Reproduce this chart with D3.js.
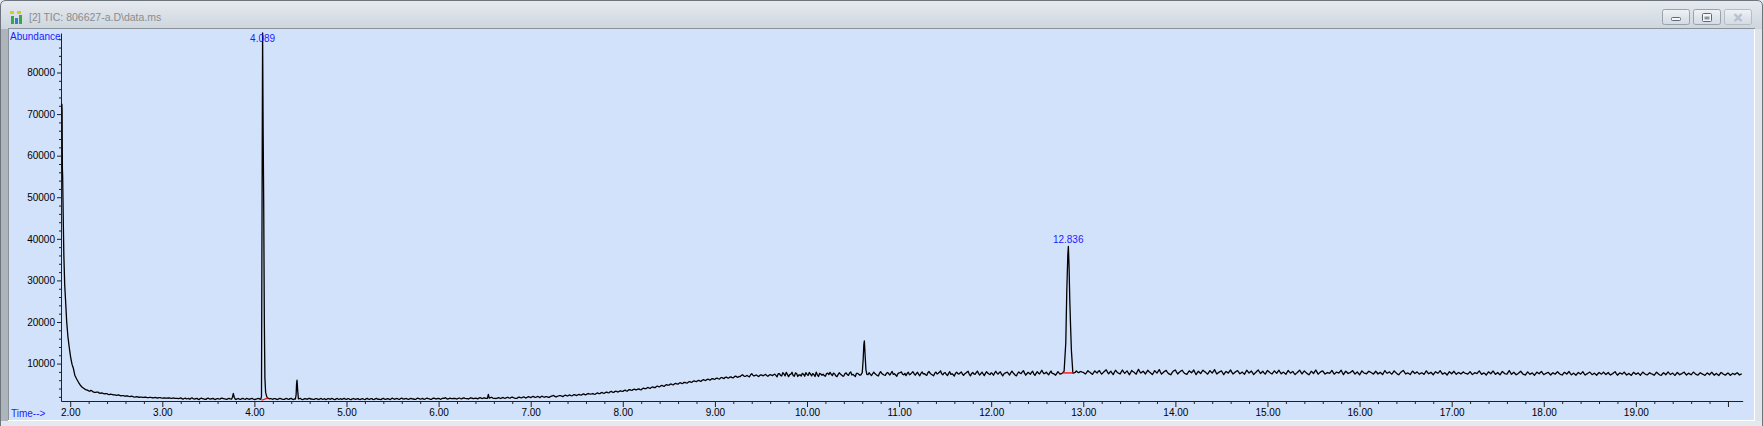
<!DOCTYPE html>
<html>
<head>
<meta charset="utf-8">
<script src="https://cdn.jsdelivr.net/npm/d3@7"></script>
<style>
  body { margin: 0; overflow: hidden; background: #dde3ea; }
  text { font-family: "Liberation Sans", Arial, sans-serif; }
</style>
</head>
<body>
<svg id="chart"></svg>
<script>
// --- data ---
const windowTitle = "[2] TIC: 806627-a.D\\data.ms";
const xMin = 1.90, xMax = 20.16;
const yMin = 1000, yMax = 89500;
const xMajor = [2, 3, 4, 5, 6, 7, 8, 9, 10, 11, 12, 13, 14, 15, 16, 17, 18, 19, 20];
const yMajor = [10000, 20000, 30000, 40000, 50000, 60000, 70000, 80000];

// solvent front at the start of the run
const frontTimes = [1.909, 1.912, 1.915, 1.918, 1.921, 1.925, 1.931, 1.940, 1.950, 1.962, 1.975,
  1.990, 2.005, 2.020, 2.035, 2.050, 2.070, 2.090, 2.110, 2.130, 2.150, 2.163];
const frontAbund = [72500, 71000, 57000, 55000, 50000, 44000, 36000, 29000, 25000, 20000, 16500,
  13800, 11500, 9800, 8800, 7200, 6300, 5500, 4800, 4300, 4000, 3800];

// baseline scans, one every 0.025 min from 2.175 min
const scanStart = 2.175, scanStep = 0.025;
const ticBaseline = [
  3700, 3450, 3550, 3200, 3050, 3150, 2850, 2900, 2700, 2750, 2550, 2600, 2450, 2350, 2450, 2250, 2300, 2150, 2200, 2050,
  2100, 1950, 2050, 1900, 1950, 1850, 1900, 1800, 1880, 1750, 1850, 1720, 1800, 1700, 1760, 1680, 1740, 1650, 1720, 1640,
  1550, 1750, 1450, 1700, 1550, 1400, 1750, 1450, 1650, 1350, 1700, 1500, 1380, 1680, 1450, 1650, 1350, 1600, 1450, 1700,
  1500, 1380, 1620, 1450, 1550, 1350, 1600, 1400, 1650, 1380, 1550, 1420, 1620, 1350, 1500, 1580, 1400, 1600, 1500, 1650,
  1600, 1420, 1580, 1350, 1620, 1450, 1380, 1600, 1400, 1650, 1350, 1580, 1450, 1620, 1350, 1550, 1400, 1650, 1480, 1380,
  1580, 1350, 1620, 1450, 1320, 1600, 1400, 1550, 1330, 1620, 1450, 1350, 1650, 1380, 1550, 1330, 1600, 1420, 1580, 1350,
  1550, 1330, 1620, 1400, 1580, 1350, 1620, 1420, 1330, 1650, 1400, 1580, 1350, 1680, 1420, 1600, 1380, 1700, 1450, 1600,
  1400, 1650, 1480, 1380, 1700, 1450, 1620, 1400, 1700, 1500, 1420, 1720, 1480, 1650, 1420, 1700, 1800, 1450, 1680, 1550,
  1650, 1480, 1720, 1520, 1750, 1580, 1480, 1780, 1560, 1700, 1500, 1800, 1600, 1750, 1620, 1820, 1900, 1650, 1600, 1800,
  1600, 1850, 1650, 1900, 1700, 1920, 1720, 1620, 1950, 1750, 2000, 1700, 2050, 1800, 2100, 1850, 2100, 1800, 2150, 1900,
  2050, 1850, 2150, 2350, 1950, 2200, 2300, 2050, 2400, 2200, 2450, 2250, 2550, 2300, 2600, 2400, 2700, 2500, 2800, 2650,
  2800, 2600, 2950, 2750, 3050, 2850, 3150, 2950, 3300, 3050, 3350, 3150, 3450, 3300, 3600, 3400, 3750, 3550, 3850, 3700,
  3900, 3700, 4100, 3950, 4250, 4050, 4400, 4200, 4600, 4400, 4750, 4550, 4950, 4800, 5100, 4900, 5250, 5050, 5400, 5200,
  5500, 5300, 5700, 5500, 5850, 5650, 5950, 5750, 6150, 5900, 6250, 6050, 6400, 6200, 6500, 6250, 6650, 6400, 6750, 6500,
  6800, 6550, 7000, 6700, 6850, 7300, 6900, 7150, 6800, 7550, 7000, 7250, 6900, 7300, 7050, 7400, 6950, 7350, 7100, 7450,
  6800, 7600, 7000, 7500, 7900, 6850, 7450, 7100, 7750, 6900, 7300, 7650, 6950, 7400, 7850, 7050, 7350, 7950, 6900, 7500,
  7450, 6950, 7700, 7900, 7100, 7550, 6850, 7800, 7250, 7000, 7750, 7150, 8000, 7400, 6900, 7650, 7200, 7850, 7300, 7600,
  7800, 7100, 7950, 7350, 7000, 8050, 7400, 7150, 7850, 7250, 8100, 7550, 6950, 7750, 8000, 7300, 7100, 7900, 7450, 8050,
  7200, 7900, 7050, 8000, 7600, 7150, 8100, 7400, 7050, 7950, 7650, 8250, 7300, 7850, 7100, 8050, 7550, 7000, 7900, 7450,
  8000, 7150, 7700, 8150, 7050, 7850, 7400, 8200, 7250, 7950, 7100, 8050, 7500, 7800, 7200, 8150, 7450, 8000, 7050, 7700,
  7950, 7250, 8200, 7500, 7050, 8000, 7600, 8300, 7200, 7900, 7400, 8150, 7150, 8050, 7500, 8400, 7550, 7950, 7300, 8200,
  7600, 7200, 8050, 7450, 7700, 7950, 7300, 8150, 7800, 7750, 8200, 7800, 8100, 7900, 7500, 8300, 7850, 7400, 8250, 7700,
  8300, 7450, 8050, 8500, 7550, 8150, 7350, 8400, 7800, 7500, 8450, 7650, 8250, 7300, 8350, 7950, 7450, 8600, 7700, 8150,
  7500, 8400, 7850, 7350, 8300, 7700, 8550, 7450, 8000, 8350, 7600, 7300, 8150, 8450, 7500, 8050, 8400, 7650, 7400, 8250,
  7800, 8450, 7350, 8150, 7600, 8400, 7950, 7450, 8300, 7700, 8550, 7500, 7950, 8250, 7350, 8100, 7700, 8450, 7500, 7950,
  8300, 7550, 7950, 7400, 8400, 7700, 8200, 7350, 7900, 8450, 7600, 8150, 7450, 8350, 7850, 7500, 8250, 7650, 8400, 7550,
  7950, 7400, 8350, 7700, 8100, 7350, 7850, 8400, 7500, 8250, 7700, 7300, 8150, 7600, 8450, 7450, 7950, 8250, 7500, 7850,
  7650, 8350, 7450, 7950, 7700, 8400, 7350, 8150, 7600, 7850, 8300, 7450, 8000, 7300, 8250, 7700, 7550, 8150, 7850, 7450,
  8150, 7500, 7900, 7350, 8300, 7650, 8000, 7450, 8250, 7700, 7300, 7950, 8350, 7500, 7750, 7350, 8200, 7600, 8000, 7450,
  7800, 7400, 8250, 7550, 7900, 7300, 8050, 7650, 8300, 7450, 7800, 7250, 8050, 7550, 8150, 7400, 7850, 7500, 8000, 7650,
  7450, 8050, 7350, 7800, 7600, 8250, 7400, 7750, 7250, 8000, 7550, 8200, 7400, 7850, 7300, 8100, 7600, 7450, 8300, 7400,
  7900, 7300, 7650, 8150, 7450, 7250, 8000, 7400, 7750, 7200, 7950, 7550, 8100, 7350, 7650, 7900, 7250, 7800, 7450, 8050,
  7500, 7250, 7900, 7450, 8100, 7300, 7700, 7200, 7850, 7450, 8050, 7250, 7600, 7950, 7350, 7700, 7200, 7850, 7450, 7950,
  7350, 7850, 7250, 7600, 8050, 7200, 7750, 7450, 7950, 7250, 7650, 7150, 7900, 7400, 7750, 7200, 7950, 7500, 7300, 7800,
  7500, 7200, 7900, 7400, 7150, 7800, 7300, 8000, 7350, 7700, 7150, 7850, 7300, 7600, 7950, 7250, 7700, 7300, 7950, 7450,
  7250, 7800, 7450, 7150, 7750, 7300, 7900, 7200, 7650, 7100, 7850, 7450, 7250, 7750, 7150, 7650, 7350, 7800, 7250, 7550
];
// the scans in between, half a step later
const ticBaselineMid = [
  3600, 3350, 3400, 3100, 3150, 2950, 2950, 2800, 2800, 2600, 2650, 2500, 2450, 2400, 2350, 2300, 2200, 2250, 2100, 2150,
  2000, 2000, 1950, 1950, 1880, 1900, 1820, 1860, 1780, 1820, 1760, 1790, 1740, 1720, 1700, 1720, 1680, 1700, 1650, 1620,
  1650, 1580, 1600, 1500, 1620, 1700, 1520, 1580, 1450, 1600, 1550, 1420, 1650, 1500, 1580, 1450, 1520, 1500, 1620, 1550,
  1450, 1550, 1500, 1600, 1420, 1500, 1450, 1550, 1480, 1600, 1450, 1550, 1480, 1420, 1600, 1450, 1550, 1450, 1580, 1500,
  1500, 1550, 1450, 1500, 1550, 1380, 1550, 1450, 1580, 1450, 1500, 1520, 1550, 1400, 1480, 1500, 1600, 1450, 1380, 1550,
  1450, 1500, 1400, 1550, 1450, 1500, 1600, 1380, 1500, 1400, 1550, 1500, 1450, 1550, 1400, 1500, 1450, 1500, 1400, 1500,
  1420, 1500, 1450, 1550, 1400, 1500, 1450, 1380, 1550, 1450, 1500, 1450, 1550, 1500, 1550, 1450, 1600, 1500, 1550, 1450,
  1550, 1500, 1420, 1600, 1550, 1500, 1450, 1600, 1550, 1400, 1650, 1550, 1600, 1500, 1600, 1650, 1550, 1600, 1550, 1600,
  1550, 1620, 1600, 1680, 1620, 1550, 1650, 1700, 1600, 1620, 1700, 1680, 1720, 1650, 1750, 1800, 1700, 1620, 1700, 1720,
  1750, 1700, 1800, 1750, 1850, 1800, 1650, 1850, 1800, 1900, 1850, 1900, 1950, 1950, 2000, 1950, 2000, 2050, 2000, 2050,
  1900, 2050, 2250, 2100, 2100, 2300, 2150, 2250, 2300, 2350, 2300, 2450, 2400, 2500, 2450, 2600, 2550, 2700, 2700, 2700,
  2650, 2800, 2800, 2950, 2900, 3050, 3000, 3200, 3150, 3250, 3250, 3350, 3350, 3500, 3450, 3650, 3600, 3750, 3700, 3850,
  3750, 3950, 4000, 4150, 4100, 4300, 4250, 4450, 4450, 4650, 4600, 4800, 4800, 5000, 4950, 5150, 5100, 5300, 5250, 5450,
  5350, 5550, 5550, 5750, 5700, 5900, 5800, 6000, 6000, 6150, 6100, 6300, 6250, 6450, 6350, 6550, 6500, 6700, 6550, 6750,
  6600, 6850, 6800, 6900, 7150, 7050, 7000, 6950, 7300, 7200, 7150, 7050, 7150, 7200, 7250, 7150, 7200, 7250, 7300, 7150,
  7550, 7150, 7800, 7050, 7400, 7350, 7900, 6950, 7600, 7250, 7000, 7450, 7800, 7150, 7500, 7600, 6900, 7300, 7650, 7200,
  7100, 7600, 7350, 7450, 7700, 7050, 7350, 7500, 7000, 7600, 7350, 7750, 7250, 7150, 7650, 7400, 7500, 7100, 7750, 7350,
  7400, 7550, 7600, 7150, 7700, 7600, 7250, 7650, 7550, 7700, 7400, 7250, 7600, 7850, 7450, 7650, 7600, 7300, 7750, 7600,
  7600, 7400, 7650, 7500, 7300, 7800, 7650, 7250, 7700, 7500, 7900, 7550, 7700, 7400, 7650, 7400, 7300, 7650, 7600, 7750,
  7500, 7550, 7950, 7400, 7600, 7500, 7800, 7650, 7600, 7500, 7650, 7700, 7350, 7600, 7750, 7700, 7850, 7450, 7500, 7850,
  7600, 7750, 7800, 7150, 7650, 7700, 8000, 7700, 7550, 7700, 7850, 7550, 7650, 7700, 7950, 7850, 7700, 7550, 7850, 7650,
  7400, 7650, 7700, 7600, 7850, 7600, 7750, 8000, 7700, 7900, 7950, 8000, 7950, 7650, 7900, 8050, 7600, 7850, 7950, 8100,
  7850, 7750, 8300, 7950, 7900, 7700, 7900, 8050, 7650, 8000, 8000, 7950, 7800, 7750, 8100, 7650, 8150, 8050, 7950, 7850,
  7950, 8100, 7600, 7800, 8000, 8150, 7950, 7750, 8200, 7950, 7450, 7750, 8300, 7950, 7800, 8250, 7950, 7550, 7850, 8050,
  8100, 7850, 7800, 7850, 8050, 8150, 7700, 7900, 8000, 8100, 8000, 7750, 8100, 7800, 7750, 7900, 8100, 7950, 7700, 8150,
  7950, 7750, 7700, 7950, 8050, 7950, 7800, 7650, 8200, 8000, 7900, 7750, 7900, 8100, 7650, 7900, 7950, 8050, 7950, 7800,
  7650, 7900, 8000, 7900, 7700, 7650, 8150, 7950, 7900, 7950, 7500, 7700, 7900, 8050, 7950, 7700, 8150, 7850, 7650, 7750,
  8000, 7900, 7700, 7850, 8050, 7850, 7800, 7900, 7750, 8100, 7900, 7750, 7650, 7750, 7950, 7650, 7850, 8000, 7650, 7800,
  7850, 7700, 7600, 7850, 7950, 7850, 7700, 7850, 7950, 7450, 7650, 8150, 7950, 7650, 7550, 7800, 7900, 7800, 7700, 7650,
  7600, 7850, 7900, 7700, 7600, 7700, 7850, 7950, 7900, 7600, 7550, 7650, 7800, 7850, 7750, 7650, 7700, 7750, 7800, 7600,
  7750, 7700, 7550, 7700, 7950, 7800, 7600, 7550, 7650, 7800, 7900, 7800, 7600, 7550, 7700, 7850, 7500, 7900, 7850, 7650,
  7600, 7450, 7900, 7800, 7350, 7650, 7700, 7600, 7450, 7600, 7750, 7850, 7700, 7500, 7800, 7550, 7550, 7600, 7800, 7700,
  7350, 7600, 7700, 7800, 7650, 7500, 7450, 7550, 7650, 7750, 7600, 7450, 7800, 7650, 7500, 7450, 7550, 7650, 7700, 7600,
  7600, 7500, 7450, 7850, 7600, 7500, 7650, 7700, 7550, 7450, 7350, 7550, 7650, 7600, 7450, 7600, 7700, 7350, 7550, 7600,
  7350, 7600, 7650, 7250, 7500, 7600, 7650, 7650, 7550, 7400, 7550, 7600, 7450, 7800, 7550, 7500, 7450, 7650, 7700, 7300,
  7550, 7600, 7300, 7450, 7550, 7650, 7550, 7400, 7350, 7500, 7700, 7300, 7550, 7500, 7350, 7500, 7600, 7550, 7400, 7450
];

// peaks, sampled more finely
const peak377Times = [3.752, 3.762, 3.771, 3.781, 3.792];
const peak377Abund = [1450, 1900, 2800, 1900, 1450];
const peak409Times = [4.070, 4.077, 4.083, 4.089, 4.095, 4.101, 4.108, 4.114, 4.122, 4.135, 4.148];
const peak409Abund = [1400, 2200, 48000, 89500, 65700, 48600, 19700, 6500, 3000, 2000, 1700];
const peak446Times = [4.445, 4.453, 4.458, 4.463, 4.470, 4.478];
const peak446Abund = [1450, 2500, 5200, 6000, 3500, 1500];
const peak654Times = [6.530, 6.540, 6.550];
const peak654Abund = [1650, 2600, 1700];
const peak1062Times = [10.585, 10.600, 10.610, 10.617, 10.623, 10.630, 10.640, 10.650];
const peak1062Abund = [7300, 7800, 11000, 14500, 15450, 12500, 8500, 7400];
const peak1284Times = [12.773, 12.792, 12.810, 12.821, 12.832, 12.838, 12.846, 12.853, 12.862, 12.871, 12.886];
const peak1284Abund = [7700, 8200, 15000, 27600, 36100, 38200, 33000, 25600, 19000, 13200, 8000];

// integrated peaks: label and baseline drawn by the integrator
const labelTimes = [4.089, 12.836];
const labelAbund = [89500, 38200];
const intStartTimes = [4.079, 12.773];
const intStartAbund = [1180, 7750];
const intEndTimes = [4.151, 12.886];
const intEndAbund = [1730, 7750];

// --- build the trace ---
const peaks = [
  [peak377Times, peak377Abund], [peak409Times, peak409Abund], [peak446Times, peak446Abund],
  [peak654Times, peak654Abund], [peak1062Times, peak1062Abund], [peak1284Times, peak1284Abund]
];
const inPeak = t => peaks.some(p => t >= p[0][0] - 1e-9 && t <= p[0][p[0].length - 1] + 1e-9);
let trace = frontTimes.map((t, i) => [t, frontAbund[i]]);
ticBaseline.forEach((v, i) => {
  const t = scanStart + i * scanStep;
  const tm = t + scanStep / 2;
  if (!inPeak(t)) trace.push([t, v]);
  if (!inPeak(tm) && tm <= xMax) trace.push([tm, ticBaselineMid[i]]);
});
peaks.forEach(p => p[0].forEach((t, i) => trace.push([t, p[1][i]])));
trace.sort((a, b) => a[0] - b[0]);

// --- drawing ---
const W = 1763, H = 426;
const svg = d3.select("#chart").attr("width", W).attr("height", H);

const defs = svg.append("defs");
const grad = defs.append("linearGradient").attr("id", "titlebar")
  .attr("x1", 0).attr("y1", 0).attr("x2", 0).attr("y2", 1);
grad.append("stop").attr("offset", "0%").attr("stop-color", "#e6ebf0");
grad.append("stop").attr("offset", "100%").attr("stop-color", "#cdd5de");
const btnGrad = defs.append("linearGradient").attr("id", "btn")
  .attr("x1", 0).attr("y1", 0).attr("x2", 0).attr("y2", 1);
btnGrad.append("stop").attr("offset", "0%").attr("stop-color", "#eef2f6");
btnGrad.append("stop").attr("offset", "100%").attr("stop-color", "#d3dae2");

// window frame
svg.append("rect").attr("x", 0).attr("y", 0).attr("width", W).attr("height", H).attr("fill", "#dfe5ec");
svg.append("rect").attr("x", 0).attr("y", 0).attr("width", W).attr("height", 29).attr("fill", "url(#titlebar)");
svg.append("rect").attr("x", 0).attr("y", 29).attr("width", 8).attr("height", H - 29).attr("fill", "#aeb4bb");
svg.append("rect").attr("x", 1755).attr("y", 29).attr("width", 8).attr("height", H - 29).attr("fill", "#dfe4ea");
svg.append("rect").attr("x", 0).attr("y", 421).attr("width", W).attr("height", 5).attr("fill", "#e3e9f0");
svg.append("path").attr("d", "M0.5,426V6Q0.5,0.5 6,0.5H1757Q1762.5,0.5 1762.5,6V426")
  .attr("fill", "none").attr("stroke", "#6e747b");

// plot panel
svg.append("rect").attr("x", 9).attr("y", 29).attr("width", 1745).attr("height", 391).attr("fill", "#d3e2fb");
svg.append("line").attr("x1", 8).attr("x2", 1755).attr("y1", 28.5).attr("y2", 28.5).attr("stroke", "#8a9199");
svg.append("line").attr("x1", 8.5).attr("x2", 8.5).attr("y1", 28).attr("y2", 421).attr("stroke", "#8a9199");
svg.append("line").attr("x1", 1754.5).attr("x2", 1754.5).attr("y1", 29).attr("y2", 421).attr("stroke", "#ffffff");
svg.append("line").attr("x1", 8).attr("x2", 1755).attr("y1", 420.5).attr("y2", 420.5).attr("stroke", "#ffffff");

// title bar: icon, caption, buttons
const icon = svg.append("g").attr("transform", "translate(10,11)");
icon.append("rect").attr("x", 0).attr("y", 0).attr("width", 4).attr("height", 3).attr("fill", "#d8c82a");
icon.append("rect").attr("x", 7).attr("y", 0).attr("width", 4).attr("height", 3).attr("fill", "#d8c82a");
icon.append("rect").attr("x", 1).attr("y", 5).attr("width", 3).attr("height", 8).attr("fill", "#3aa64a");
icon.append("rect").attr("x", 5).attr("y", 7).attr("width", 3).attr("height", 6).attr("fill", "#2f7fd0");
icon.append("rect").attr("x", 9).attr("y", 4).attr("width", 3).attr("height", 9).attr("fill", "#3aa64a");
svg.append("text").attr("x", 29).attr("y", 20.5).attr("font-size", "10.5px").attr("fill", "#8c8c8c")
  .text(windowTitle);

const btnX = [1662, 1693, 1724];
btnX.forEach((bx, i) => {
  svg.append("rect").attr("x", bx + 0.5).attr("y", 9.5).attr("width", 27).attr("height", 15).attr("rx", 2)
    .attr("fill", "url(#btn)").attr("stroke", i === 2 ? "#b4bcc6" : "#98a2ad");
});
svg.append("rect").attr("x", 1671.5).attr("y", 17.5).attr("width", 9).attr("height", 3).attr("rx", 1)
  .attr("fill", "#f4f6f8").attr("stroke", "#5f6770");
svg.append("rect").attr("x", 1702.5).attr("y", 13.5).attr("width", 9).attr("height", 8).attr("rx", 1)
  .attr("fill", "#f4f6f8").attr("stroke", "#5f6770");
svg.append("rect").attr("x", 1704.5).attr("y", 16.5).attr("width", 5).attr("height", 3).attr("fill", "#8d96a0");
svg.append("text").attr("x", 1738).attr("y", 21.5).attr("text-anchor", "middle").attr("font-size", "12px")
  .attr("font-weight", "bold").attr("fill", "#ffffff").attr("stroke", "#b8c0c9").attr("stroke-width", 0.6)
  .text("\u2715");

// scales
const x = d3.scaleLinear().domain([xMin, xMax]).range([61, 1742.7]);
const y = d3.scaleLinear().domain([yMin, yMax]).range([401, 33]);

// x axis
const xMinor = d3.range(20, 201, 2).map(d => d / 10).filter(d => d % 1 !== 0);
svg.append("g").attr("transform", "translate(0,401)")
  .call(d3.axisBottom(x).tickValues(xMajor).tickSize(6).tickSizeOuter(0).tickPadding(2)
    .tickFormat(d => d >= 20 ? "" : d3.format(".2f")(d)));
svg.append("g").attr("transform", "translate(0,401)")
  .call(d3.axisBottom(x).tickValues(xMinor).tickSize(3).tickSizeOuter(0).tickFormat(""))
  .select(".domain").remove();

// y axis
const yMinor = d3.range(2000, 89000, 2000).filter(d => d % 10000 !== 0);
svg.append("g").attr("transform", "translate(61,0)")
  .call(d3.axisLeft(y).tickValues(yMajor).tickSize(4).tickSizeOuter(0).tickPadding(2)
    .tickFormat(d3.format("d")));
svg.append("g").attr("transform", "translate(61,0)")
  .call(d3.axisLeft(y).tickValues(yMinor).tickSize(2).tickSizeOuter(0).tickFormat(""))
  .select(".domain").remove();

svg.selectAll(".domain, .tick line").attr("stroke", "#202020");
svg.selectAll(".tick text").attr("font-size", "10px").attr("fill", "#000")
  .attr("font-family", "\"Liberation Sans\", Arial, sans-serif");

// axis captions
svg.append("text").attr("x", 10).attr("y", 40).attr("font-size", "10px").attr("fill", "#1c1cff").text("Abundance");
svg.append("text").attr("x", 11).attr("y", 416.5).attr("font-size", "10px").attr("fill", "#1c1cff").text("Time-->");

// trace
const line = d3.line().x(d => x(d[0])).y(d => y(d[1]));
svg.append("path").datum(trace)
  .attr("d", line)
  .attr("fill", "none")
  .attr("stroke", "#000")
  .attr("stroke-width", 1.3)
  .attr("stroke-linejoin", "round");

// integration baselines
intStartTimes.forEach((t, i) => {
  svg.append("line")
    .attr("x1", x(t)).attr("y1", y(intStartAbund[i]))
    .attr("x2", x(intEndTimes[i])).attr("y2", y(intEndAbund[i]))
    .attr("stroke", "#ff0000").attr("stroke-width", 1.3);
});

// peak labels
labelTimes.forEach((t, i) => {
  svg.append("text")
    .attr("x", x(t))
    .attr("y", Math.max(y(labelAbund[i]) - 3, 42))
    .attr("text-anchor", "middle")
    .attr("font-size", "10px")
    .attr("fill", "#1c1cff")
    .text(t.toFixed(3));
});
</script>
</body>
</html>
